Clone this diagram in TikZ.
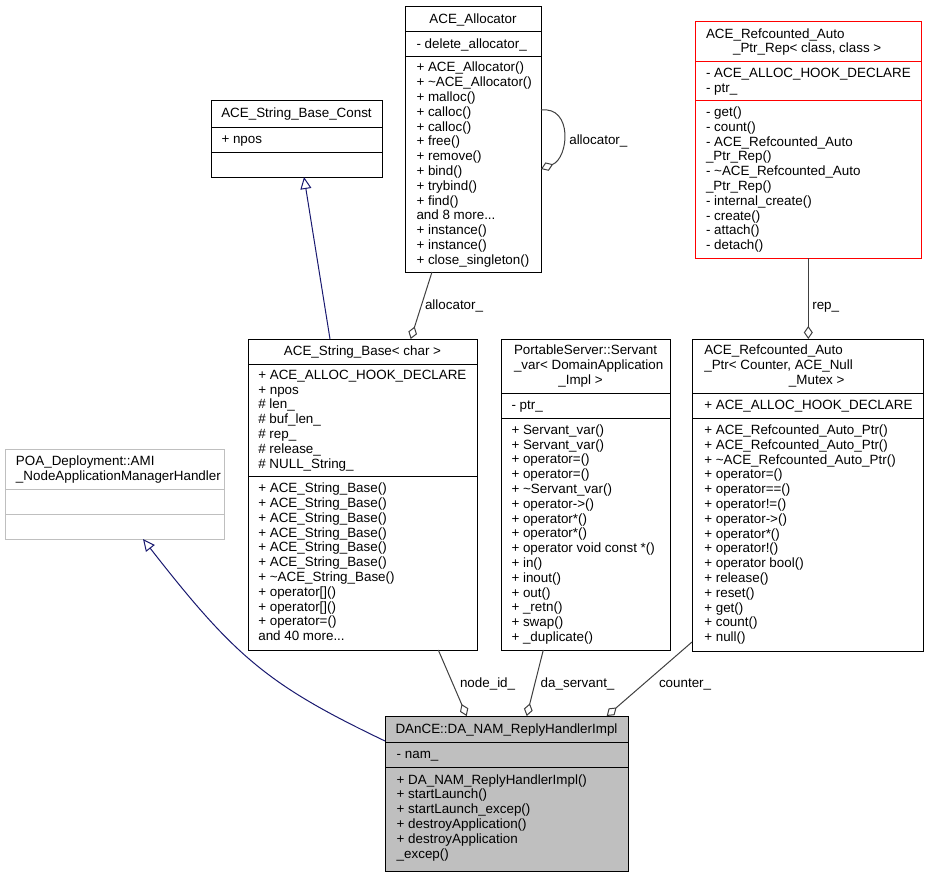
\documentclass[tikz,border=0pt]{standalone}
\usepackage{fontspec}
\setmainfont{Liberation Sans}
\usetikzlibrary{arrows.meta}
\definecolor{navy}{RGB}{25,25,112}
\definecolor{edgegray}{RGB}{64,64,64}
\definecolor{lgray}{RGB}{191,191,191}
\newcommand\fs{\fontsize{13.4}{14.8}\selectfont}
\newcommand\ddd{...}
\tikzset{
 txt/.style={inner sep=0pt, outer sep=0pt, font=\fs},
 box/.style={draw=black, line width=1pt, inner sep=0pt, outer sep=0pt, anchor=north west},
 agg/.style={draw=edgegray, line width=1pt, -{Diamond[open, length=13pt, width=9pt]}},
 inh/.style={draw=navy, line width=1pt, -{Triangle[open, length=12pt, width=11pt]}},
}
\newcommand\mlines[4]{\foreach \lbl [count=\i] in {#4} {\node[txt, anchor=base west] (#1\i) at (#2,{#3+14.8*(\i-1)}) {\lbl};}}
\newcommand\sepln[3][black]{\draw[#1, line width=1pt] ([yshift=-#3pt]#2.north west) -- ([yshift=-#3pt]#2.north east);}
\begin{document}
\begin{tikzpicture}[x=1pt, y=-1pt]
\path[fill=white, use as bounding box] (0,0) rectangle (928,872);

% ACE_Allocator
\node[box, minimum width=136pt, minimum height=265pt] (alloc) at (405,7) {};
\sepln{alloc}{25}\sepln{alloc}{50}
\node[txt, anchor=base] (alloct) at (473,23.1) {ACE\_Allocator};
\mlines{alloca}{416.5}{48.1}{- delete\_allocator\_}
\mlines{allocm}{416.5}{71.9}{+ ACE\_Allocator(), + \textasciitilde ACE\_Allocator(), + malloc(), + calloc(), + calloc(), + free(), + remove(), + bind(), + trybind(), + find(), and 8 more\ddd, + instance(), + instance(), + close\_singleton()}

% ACE_String_Base_Const
\node[box, minimum width=171pt, minimum height=76pt] (sbc) at (211,101) {};
\sepln{sbc}{26}\sepln{sbc}{51}
\node[txt, anchor=base] (sbct) at (296.5,117.5) {ACE\_String\_Base\_Const};
\mlines{sbca}{221.5}{143.1}{+ npos}

% ACE_Refcounted_Auto_Ptr_Rep
\node[box, draw=red, minimum width=226pt, minimum height=236pt] (rep) at (695,22) {};
\sepln[red]{rep}{40}\sepln[red]{rep}{79}
\node[txt, anchor=base west] (rept1) at (706,38.2) {ACE\_Refcounted\_Auto};
\node[txt, anchor=base] (rept2) at (807.2,53) {\_Ptr\_Rep< class, class >};
\mlines{repa}{706}{77.7}{- ACE\_ALLOC\_HOOK\_DECLARE, - ptr\_}
\mlines{repm}{706}{116.5}{- get(), - count(), - ACE\_Refcounted\_Auto, \_Ptr\_Rep(), - \textasciitilde ACE\_Refcounted\_Auto, \_Ptr\_Rep(), - internal\_create(), - create(), - attach(), - detach()}

% POA_Deployment::AMI_NodeApplicationManagerHandler
\node[box, draw=lgray, minimum width=219pt, minimum height=90pt] (poa) at (5,449) {};
\sepln[lgray]{poa}{40}\sepln[lgray]{poa}{65}
\mlines{poat}{16}{465.2}{POA\_Deployment::AMI, \_NodeApplicationManagerHandler}

% ACE_String_Base< char >
\node[box, minimum width=229pt, minimum height=311pt] (sb) at (248,339) {};
\sepln{sb}{25}\sepln{sb}{137}
\node[txt, anchor=base] (sbt) at (362.5,355.1) {ACE\_String\_Base< char >};
\mlines{sba}{258.3}{379.2}{+ ACE\_ALLOC\_HOOK\_DECLARE, + npos, \# len\_, \# buf\_len\_, \# rep\_, \# release\_, \# NULL\_String\_}
\mlines{sbm}{258.3}{492.6}{+ ACE\_String\_Base(), + ACE\_String\_Base(), + ACE\_String\_Base(), + ACE\_String\_Base(), + ACE\_String\_Base(), + ACE\_String\_Base(), + \textasciitilde ACE\_String\_Base(), {+ operator[]()}, {+ operator[]()}, {+ operator=()}, and 40 more\ddd}

% PortableServer::Servant_var
\node[box, minimum width=169pt, minimum height=311pt] (ps) at (501,339) {};
\sepln{ps}{54}\sepln{ps}{79}
\mlines{pst}{514}{354.8}{PortableServer::Servant, \_var< DomainApplication}
\node[txt, anchor=base] (pst3) at (580.5,384.4) {\_Impl >};
\mlines{psa}{511.5}{409.1}{- ptr\_}
\mlines{psm}{511.5}{434.3}{+ Servant\_var(), + Servant\_var(), {+ operator=()}, {+ operator=()}, + \textasciitilde Servant\_var(), {+ operator->()}, {+ operator*()}, {+ operator*()}, {+ operator void const *()}, + in(), + inout(), + out(), + \_retn(), + swap(), + \_duplicate()}

% ACE_Refcounted_Auto_Ptr
\node[box, minimum width=231pt, minimum height=312pt] (ap) at (692,339) {};
\sepln{ap}{54}\sepln{ap}{79}
\mlines{apt}{704.3}{354.8}{ACE\_Refcounted\_Auto, {\_Ptr< Counter, ACE\_Null}}
\node[txt, anchor=base] (apt3) at (816.7,384.4) {\_Mutex >};
\mlines{apa}{704.3}{409.1}{+ ACE\_ALLOC\_HOOK\_DECLARE}
\mlines{apm}{704.3}{434.5}{+ ACE\_Refcounted\_Auto\_Ptr(), + ACE\_Refcounted\_Auto\_Ptr(), + \textasciitilde ACE\_Refcounted\_Auto\_Ptr(), {+ operator=()}, {+ operator==()}, {+ operator!=()}, {+ operator->()}, {+ operator*()}, {+ operator!()}, + operator bool(), + release(), + reset(), + get(), + count(), + null()}

% DAnCE::DA_NAM_ReplyHandlerImpl
\node[box, fill=lgray, minimum width=243pt, minimum height=155pt] (dance) at (385,716) {};
\sepln{dance}{26}\sepln{dance}{51}
\node[txt, anchor=base] (dancet) at (506.5,733.5) {DAnCE::DA\_NAM\_ReplyHandlerImpl};
\mlines{dancea}{396.7}{758}{- nam\_}
\mlines{dancem}{396.7}{784}{+ DA\_NAM\_ReplyHandlerImpl(), + startLaunch(), + startLaunch\_excep(), + destroyApplication(), + destroyApplication, \_excep()}

% connectors
\draw[inh] ([xshift=82pt]sb.north west) -- ([xshift=93pt]sbc.south west);
\draw[agg] ([xshift=27pt]alloc.south west) -- ([xshift=162.7pt]sb.north west);
\draw[agg] ([yshift=-103pt]alloc.north east) .. controls (573,106) and (569,158) .. ([yshift=-162pt]alloc.north east);
\draw[agg] ([xshift=113.3pt]rep.south west) -- ([xshift=116.3pt]ap.north west);
\draw[inh] ([yshift=-25pt]dance.north west) .. controls (268,685) and (235,657) .. ([xshift=138pt]poa.south west);
\draw[agg] ([xshift=190.3pt]sb.south west) -- ([xshift=81.7pt]dance.north west);
\draw[agg] ([xshift=42.3pt]ps.south west) -- ([xshift=141.7pt]dance.north west);
\draw[agg] ([yshift=-303pt]ap.north west) -- ([xshift=221.7pt]dance.north west);

% connector labels
\node[txt, anchor=base west] (l1) at (425,309.5) {allocator\_};
\node[txt, anchor=base west] (l2) at (569.3,144.5) {allocator\_};
\node[txt, anchor=base west] (l3) at (812.3,309.5) {rep\_};
\node[txt, anchor=base west] (l4) at (460,687) {node\_id\_};
\node[txt, anchor=base west] (l5) at (540.7,687) {da\_servant\_};
\node[txt, anchor=base west] (l6) at (659,687) {counter\_};
\end{tikzpicture}
\end{document}
